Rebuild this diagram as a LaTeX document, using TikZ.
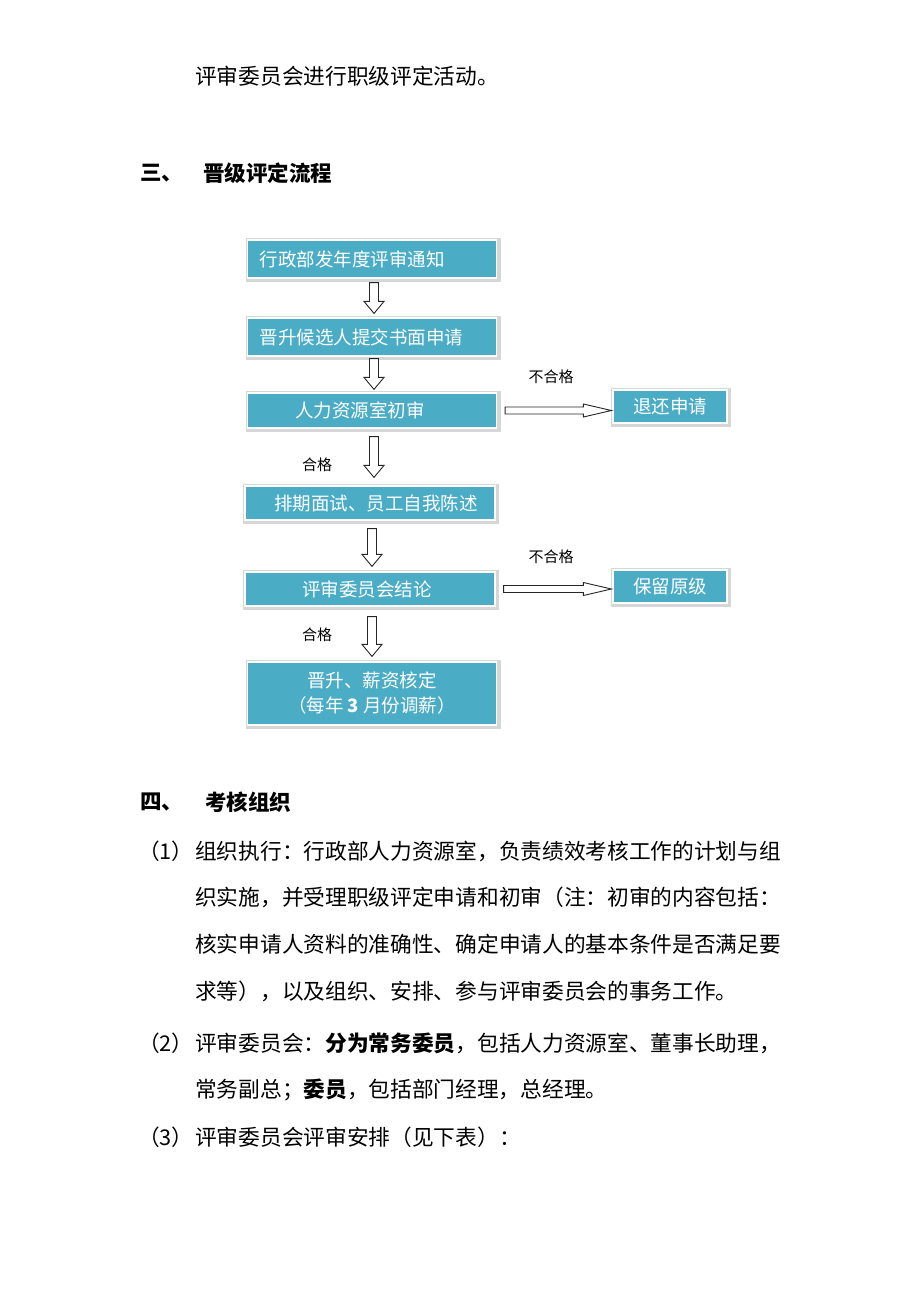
\documentclass[tikz,border=0pt]{standalone}
\usepackage{fontspec}
\setmainfont{Noto Sans CJK SC}
\usetikzlibrary{calc}
\definecolor{boxblue}{HTML}{4BACC6}
\tikzset{
 box/.style={rectangle, fill=boxblue, draw=white, line width=1.2pt,
   preaction={draw=black!16, line width=6pt, transform canvas={shift={(1pt,-1pt)}}},
   text=white, font=\fontsize{18.5}{25}\selectfont, inner sep=0pt},
 blk/.style={draw=black!85, fill=white, line width=0.9pt, line join=miter},
 lbl/.style={font=\fontsize{15}{18}\selectfont, inner sep=0pt},
 body/.style={font=\fontsize{21.7}{26}\selectfont, inner sep=0pt, anchor=west},
 head/.style={font=\fontsize{21.5}{26}\selectfont\bfseries, inner sep=0pt, anchor=west},
}
\newcommand\varr[4]{\draw[blk] let \p1=($(#1.south)+(2,#3)$), \p2=($(#2.north)+(0,-#4)$) in
  (\x1-4.5pt,\y1) -- (\x1+4.5pt,\y1) -- (\x1+4.5pt,\y2+12pt) -- (\x1+10pt,\y2+12pt) -- (\x1,\y2)
  -- (\x1-10pt,\y2+12pt) -- (\x1-4.5pt,\y2+12pt) -- cycle;}
\newcommand\harr[2]{\draw[blk] let \p1=($(#1.east)+(8,0)$), \p2=($(#2.west)+(-1,0)$) in
  (\x1,\y1-3.5pt) -- (\x2-28pt,\y1-3.5pt) -- (\x2-28pt,\y1-6.5pt) -- (\x2,\y1)
  -- (\x2-28pt,\y1+6.5pt) -- (\x2-28pt,\y1+3.5pt) -- (\x1,\y1+3.5pt) -- cycle;}
\begin{document}
\begin{tikzpicture}[x=1pt,y=-1pt]
\fill[white] (0,0) rectangle (920,1302);
\useasboundingbox (0,0) rectangle (920,1302);

\node[body] (t0) at (195,76) {评审委员会进行职级评定活动。};
\node[head] (h3n) at (140,173) {三、};
\node[head] (h3) at (203,173) {晋级评定流程};

% flowchart boxes
\node[box, minimum width=249pt, minimum height=38pt, text width=225pt, align=left] (b1) at (372,259) {行政部发年度评审通知};
\node[box, minimum width=249pt, minimum height=38pt, text width=225pt, align=left] (b2) at (372,337) {晋升候选人提交书面申请};
\node[box, minimum width=249pt, minimum height=35pt] (b3) at (372,410.5) {人力资源室初审\hspace*{24pt}};
\node[box, minimum width=250pt, minimum height=34pt] (b4) at (370,503) {\hspace*{12pt}排期面试、员工自我陈述};
\node[box, minimum width=250pt, minimum height=34pt] (b5) at (370,589) {评审委员会结论\hspace*{6pt}};
\node[box, minimum width=249pt, minimum height=63pt, align=center] (b6) at (372,693.5) {晋升、薪资核定\\（每年 {\bfseries 3} 月份调薪）};
\node[box, minimum width=114pt, minimum height=33pt] (r1) at (670,406.5) {退还申请};
\node[box, minimum width=114pt, minimum height=33pt] (r2) at (670,586.5) {保留原级};

\varr{b1}{b2}{4}{4}
\varr{b2}{b3}{2}{3}
\varr{b3}{b4}{8}{8}
\varr{b4}{b5}{8}{5}
\varr{b5}{b6}{10}{5}
\harr{b3}{r1}
\harr{b5}{r2}

\node[lbl] (n1) at (551,377) {不合格};
\node[lbl] (p1) at (317,465) {合格};
\node[lbl] (n2) at (551,557) {不合格};
\node[lbl] (p2) at (317,635) {合格};

% section 4
\node[head] (h4n) at (140,802) {四、};
\node[head] (h4) at (205,802) {考核组织};
\node[body] (i1) at (138,851) {（1）};
\node[body] (l1) at (195,851) {组织执行：行政部人力资源室，负责绩效考核工作的计划与组};
\node[body] (l2) at (195,897) {织实施，并受理职级评定申请和初审（注：初审的内容包括：};
\node[body] (l3) at (195,944) {核实申请人资料的准确性、确定申请人的基本条件是否满足要};
\node[body] (l4) at (195,991) {求等），以及组织、安排、参与评审委员会的事务工作。};
\node[body] (i2) at (138,1043) {（2）};
\node[body] (l5) at (195,1043) {评审委员会：{\bfseries 分为常务委员}，包括人力资源室、董事长助理，};
\node[body] (l6) at (195,1090) {常务副总；{\bfseries 委员}，包括部门经理，总经理。};
\node[body] (i3) at (138,1137) {（3）};
\node[body] (l7) at (195,1137) {评审委员会评审安排（见下表）：};
\end{tikzpicture}
\end{document}
